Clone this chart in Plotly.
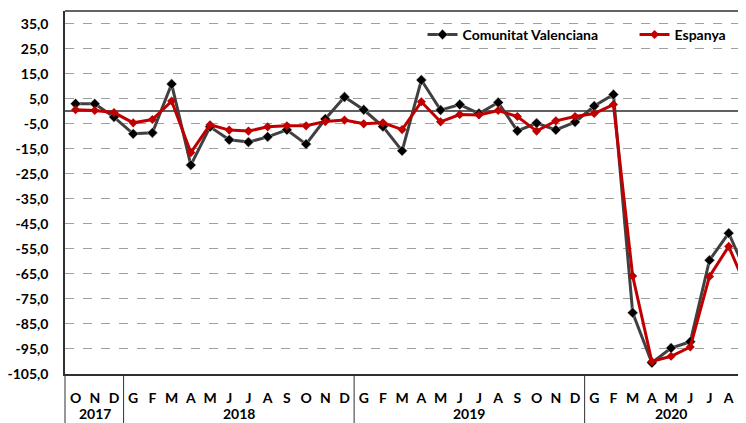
import plotly.graph_objects as go

months = ['O', 'N', 'D',
          'G', 'F', 'M', 'A', 'M', 'J', 'J', 'A', 'S', 'O', 'N', 'D',
          'G', 'F', 'M', 'A', 'M', 'J', 'J', 'A', 'S', 'O', 'N', 'D',
          'G', 'F', 'M', 'A', 'M', 'J', 'J', 'A', 'S']
years = ['2017', '2017', '2017',
         '2018', '2018', '2018', '2018', '2018', '2018', '2018', '2018', '2018', '2018', '2018', '2018',
         '2019', '2019', '2019', '2019', '2019', '2019', '2019', '2019', '2019', '2019', '2019', '2019',
         '2020', '2020', '2020', '2020', '2020', '2020', '2020', '2020', '2020']

comunitat_valenciana = [3.0, 3.0, -2.3,
                        -9.0, -8.6, 10.9, -21.5, -6.2, -11.4, -12.3, -10.2, -7.4, -13.1, -3.1, 5.7,
                        0.6, -6.1, -15.8, 12.5, 0.5, 2.7, -0.9, 3.5, -7.8, -4.7, -7.4, -4.3,
                        2.1, 6.7, -80.5, -100.5, -94.6, -92.1, -59.5, -48.7, -66.0]
espanya = [0.6, 0.3, -0.5,
           -4.6, -3.3, 4.1, -16.5, -5.4, -7.5, -7.9, -6.2, -5.8, -5.8, -4.1, -3.5,
           -5.0, -4.6, -7.3, 3.8, -4.2, -1.3, -1.5, 0.3, -2.1, -7.9, -3.8, -2.1,
           -0.9, 2.7, -65.8, -100.0, -97.9, -94.2, -66.0, -54.0, -72.0]

y_tick_values = [35, 25, 15, 5, -5, -15, -25, -35, -45, -55, -65, -75, -85, -95, -105]
y_tick_labels = [f"{v:.1f}".replace('.', ',') for v in y_tick_values]

x = list(range(len(months)))
FONT = 'Lato'

fig = go.Figure()
fig.add_trace(go.Scatter(
    x=x, y=comunitat_valenciana, name='Comunitat Valenciana', mode='lines+markers',
    line=dict(color='#404040', width=3),
    marker=dict(symbol='diamond', size=8, color='#000000', line=dict(color='#d0d0d0', width=0.5)),
))
fig.add_trace(go.Scatter(
    x=x, y=espanya, name='Espanya', mode='lines+markers',
    line=dict(color='#C00000', width=3),
    marker=dict(symbol='diamond', size=7, color='#C00000'),
))

# year group labels and dividers, derived from the year list
groups = []
for i, yv in enumerate(years):
    if not groups or groups[-1][0] != yv:
        groups.append([yv, i, i])
    else:
        groups[-1][2] = i

annotations = []
shapes = []
for yv, a, b in groups:
    annotations.append(dict(
        x=(a + b) / 2, y=0, xref='x', yref='paper', yshift=-39,
        text=yv, showarrow=False, yanchor='middle', borderpad=0,
        font=dict(family=FONT, size=14, color='#000000', weight='bold')))
    if a > 0:
        shapes.append(dict(type='line', xref='x', yref='paper', x0=a - 0.5, x1=a - 0.5,
                           y0=0, y1=-0.2, line=dict(color='#303030', width=1)))
# left edge extension and top frame line
shapes.append(dict(type='line', xref='paper', yref='paper', x0=0, x1=0, y0=0, y1=-0.2,
                   line=dict(color='#303030', width=1)))
shapes.append(dict(type='line', xref='paper', yref='paper', x0=0, x1=1, y0=1, y1=1,
                   line=dict(color='#303030', width=1.5)))

# the page adds an 8px body margin, so the figure is sized/offset to compensate
fig.update_layout(
    width=738, height=415,
    margin=dict(l=57, r=0, t=3, b=49, autoexpand=False),
    paper_bgcolor='white', plot_bgcolor='white',
    font=dict(family=FONT, size=14, color='#000000'),
    showlegend=True,
    legend=dict(orientation='h', x=0.525, y=0.934, xanchor='left', yanchor='middle',
                bgcolor='rgba(0,0,0,0)', font=dict(family=FONT, size=14, weight='bold'),
                entrywidth=167, traceorder='normal'),
    annotations=annotations,
    shapes=shapes,
)
fig.update_xaxes(
    range=[-0.55, 34.9], tickmode='array', tickvals=x, ticktext=months, tickangle=0,
    showgrid=False, zeroline=False, showline=True, linecolor='#303030', linewidth=1.5,
    ticks='', ticklabelstandoff=10, automargin=False,
    tickfont=dict(family=FONT, size=14, color='#000000', weight='bold'),
)
fig.update_yaxes(
    range=[-105, 40.1], tickmode='array', tickvals=y_tick_values, ticktext=y_tick_labels,
    showgrid=True, gridcolor='#a0a0a0', griddash='dash', gridwidth=1,
    zeroline=True, zerolinecolor='#606060', zerolinewidth=1.5,
    showline=True, linecolor='#303030', linewidth=1.5,
    ticks='', ticklabelstandoff=12, automargin=False,
    tickfont=dict(family=FONT, size=14, color='#000000', weight='bold'),
)

fig.write_html('out.html')
